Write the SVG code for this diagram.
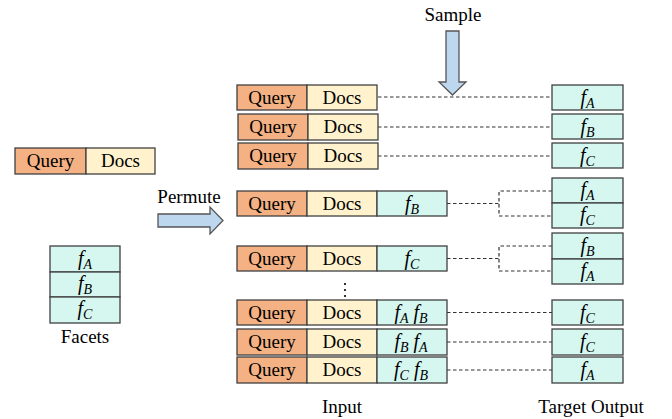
<svg xmlns="http://www.w3.org/2000/svg" width="672" height="419" viewBox="0 0 672 419" font-family="'Liberation Serif', 'Times New Roman', Times, 'DejaVu Serif', serif">
<style>
.q{fill:#F4B183;stroke:#404040;stroke-width:1.3}
.d{fill:#FFF2CC;stroke:#404040;stroke-width:1.3}
.c{fill:#D5F7F0;stroke:#404040;stroke-width:1.3}
.t{font-family:'Liberation Serif','Times New Roman',Times,'DejaVu Serif',serif;font-size:19px;fill:#000;text-anchor:middle}
.f{font-family:'Liberation Serif','Times New Roman',Times,'DejaVu Serif',serif;font-style:italic;font-size:20px;fill:#000;text-anchor:middle}
.s{font-size:14px}
.dash{fill:none;stroke:#333;stroke-width:1.2;stroke-dasharray:3.5 2.5}
.arr{fill:#BDD7EE;stroke:#555;stroke-width:1.3}
</style>
<rect width="672" height="419" fill="#fff"/>

<g id="labels">
<text class="t" x="453" y="21">Sample</text>
<text class="t" x="189" y="203">Permute</text>
<text class="t" x="85" y="343">Facets</text>
<text class="t" x="342" y="413">Input</text>
<text class="t" x="591" y="413">Target Output</text>
</g>

<g id="sample-arrow"><path class="arr" d="M446,31 H459 V82 H466 L452.5,95 L439,82 H446 Z"/></g>
<g id="permute-arrow"><path class="arr" d="M158,214 H210 V207 L223,220.5 L210,234 V227 H158 Z"/></g>

<g id="source-qd">
<rect class="q" x="15" y="148" width="71" height="26"/><rect class="d" x="86" y="148" width="69" height="26"/>
<text class="t" x="50.5" y="167">Query</text><text class="t" x="120.5" y="167">Docs</text>
</g>

<g id="facets">
<rect class="c" x="50" y="246" width="70" height="26"/><rect class="c" x="50" y="272" width="70" height="25"/><rect class="c" x="50" y="297" width="70" height="26"/>
<text class="f" x="85" y="265">f<tspan class="s" dy="4">A</tspan></text>
<text class="f" x="85" y="290">f<tspan class="s" dy="4">B</tspan></text>
<text class="f" x="85" y="315">f<tspan class="s" dy="4">C</tspan></text>
</g>

<g id="connectors">
<path class="dash" d="M378,97 H552 M378,127 H552 M378,156 H552"/>
<path class="dash" d="M447,203.5 H499 M552,191 H499 V216 H552"/>
<path class="dash" d="M447,258.5 H499 M552,246 H499 V271 H552"/>
<path class="dash" d="M447,312.5 H552 M447,342 H552 M447,370 H552"/>
</g>

<g id="row1">
<rect class="q" x="237" y="85" width="70" height="25"/><rect class="d" x="307" y="85" width="70" height="25"/>
<text class="t" x="272" y="104">Query</text><text class="t" x="342" y="104">Docs</text>
</g>
<g id="row2">
<rect class="q" x="238" y="114" width="70" height="26"/><rect class="d" x="308" y="114" width="70" height="26"/>
<text class="t" x="273" y="133">Query</text><text class="t" x="343" y="133">Docs</text>
</g>
<g id="row3">
<rect class="q" x="238" y="143" width="70" height="26"/><rect class="d" x="308" y="143" width="70" height="26"/>
<text class="t" x="273" y="162">Query</text><text class="t" x="343" y="162">Docs</text>
</g>
<g id="row4">
<rect class="q" x="237" y="191" width="70" height="25"/><rect class="d" x="307" y="191" width="70" height="25"/><rect class="c" x="377" y="191" width="70" height="25"/>
<text class="t" x="272" y="210">Query</text><text class="t" x="342" y="210">Docs</text>
<text class="f" x="412" y="210">f<tspan class="s" dy="4">B</tspan></text>
</g>
<g id="row5">
<rect class="q" x="237" y="246" width="70" height="25"/><rect class="d" x="307" y="246" width="70" height="25"/><rect class="c" x="377" y="246" width="70" height="25"/>
<text class="t" x="272" y="265">Query</text><text class="t" x="342" y="265">Docs</text>
<text class="f" x="412" y="265">f<tspan class="s" dy="4">C</tspan></text>
</g>
<g id="ellipsis">
<circle cx="345" cy="284" r="1.1" fill="#000"/><circle cx="345" cy="290" r="1.1" fill="#000"/><circle cx="345" cy="296" r="1.1" fill="#000"/>
</g>
<g id="row6">
<rect class="q" x="237" y="300" width="70" height="25"/><rect class="d" x="307" y="300" width="70" height="25"/><rect class="c" x="377" y="300" width="70" height="25"/>
<text class="t" x="272" y="319">Query</text><text class="t" x="342" y="319">Docs</text>
<text class="f" x="411" y="319">f<tspan class="s" dy="4">A</tspan><tspan dy="-4"> f</tspan><tspan class="s" dy="4">B</tspan></text>
</g>
<g id="row7">
<rect class="q" x="237" y="329" width="70" height="26"/><rect class="d" x="307" y="329" width="70" height="26"/><rect class="c" x="377" y="329" width="70" height="26"/>
<text class="t" x="272" y="348">Query</text><text class="t" x="342" y="348">Docs</text>
<text class="f" x="411" y="348">f<tspan class="s" dy="4">B</tspan><tspan dy="-4"> f</tspan><tspan class="s" dy="4">A</tspan></text>
</g>
<g id="row8">
<rect class="q" x="237" y="357" width="70" height="26"/><rect class="d" x="307" y="357" width="70" height="26"/><rect class="c" x="377" y="357" width="70" height="26"/>
<text class="t" x="272" y="376">Query</text><text class="t" x="342" y="376">Docs</text>
<text class="f" x="411" y="376">f<tspan class="s" dy="4">C</tspan><tspan dy="-4"> f</tspan><tspan class="s" dy="4">B</tspan></text>
</g>

<g id="out1"><rect class="c" x="552" y="85" width="71" height="25"/><text class="f" x="587.5" y="104">f<tspan class="s" dy="4">A</tspan></text></g>
<g id="out2"><rect class="c" x="552" y="114" width="71" height="25"/><text class="f" x="587.5" y="133">f<tspan class="s" dy="4">B</tspan></text></g>
<g id="out3"><rect class="c" x="552" y="143" width="71" height="25"/><text class="f" x="587.5" y="162">f<tspan class="s" dy="4">C</tspan></text></g>
<g id="out4">
<rect class="c" x="552" y="178" width="71" height="25"/><rect class="c" x="552" y="203" width="71" height="25"/>
<text class="f" x="587.5" y="196">f<tspan class="s" dy="4">A</tspan></text>
<text class="f" x="587.5" y="221">f<tspan class="s" dy="4">C</tspan></text>
</g>
<g id="out5">
<rect class="c" x="552" y="233" width="71" height="26"/><rect class="c" x="552" y="259" width="71" height="25"/>
<text class="f" x="587.5" y="252">f<tspan class="s" dy="4">B</tspan></text>
<text class="f" x="587.5" y="277">f<tspan class="s" dy="4">A</tspan></text>
</g>
<g id="out6"><rect class="c" x="552" y="300" width="71" height="25"/><text class="f" x="587.5" y="319">f<tspan class="s" dy="4">C</tspan></text></g>
<g id="out7"><rect class="c" x="552" y="329" width="71" height="26"/><text class="f" x="587.5" y="348">f<tspan class="s" dy="4">C</tspan></text></g>
<g id="out8"><rect class="c" x="552" y="357" width="71" height="26"/><text class="f" x="587.5" y="376">f<tspan class="s" dy="4">A</tspan></text></g>
</svg>
